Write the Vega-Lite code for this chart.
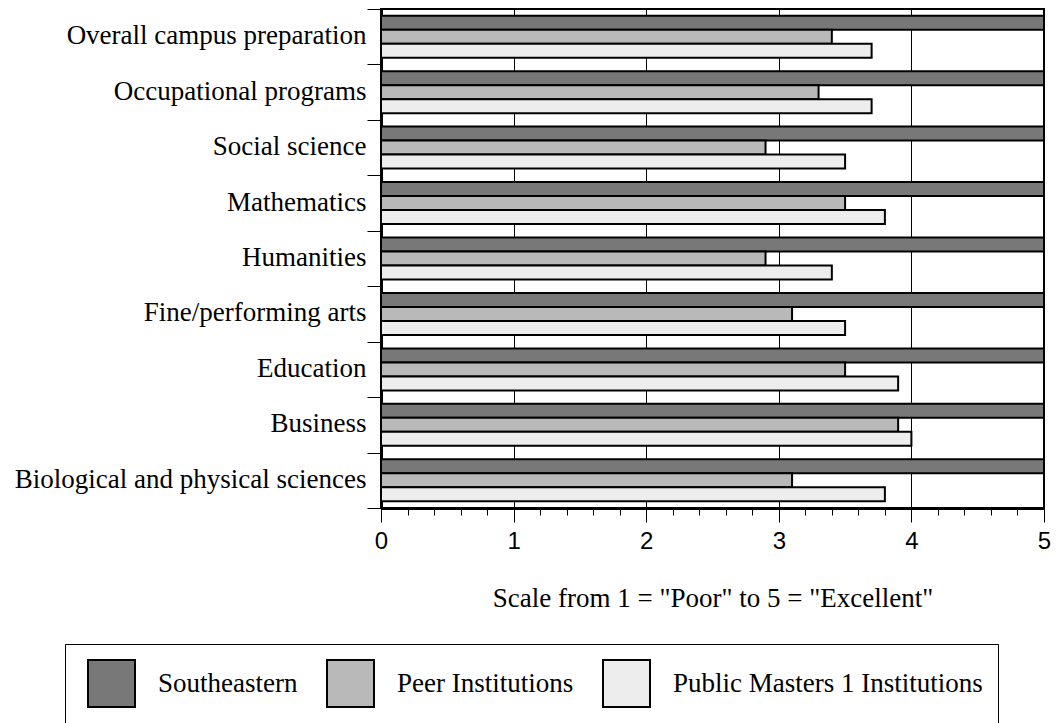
{
  "$schema": "https://vega.github.io/schema/vega-lite/v6.json",
  "width": 663,
  "height": 499,
  "autosize": {"type": "none"},
  "padding": {"left": 381, "top": 9, "right": 13, "bottom": 215},
  "background": "white",
  "data": {
    "values": [
      {"category": "Overall campus preparation", "series": "Southeastern", "value": 5},
      {"category": "Overall campus preparation", "series": "Peer Institutions", "value": 3.4},
      {"category": "Overall campus preparation", "series": "Public Masters 1 Institutions", "value": 3.7},
      {"category": "Occupational programs", "series": "Southeastern", "value": 5},
      {"category": "Occupational programs", "series": "Peer Institutions", "value": 3.3},
      {"category": "Occupational programs", "series": "Public Masters 1 Institutions", "value": 3.7},
      {"category": "Social science", "series": "Southeastern", "value": 5},
      {"category": "Social science", "series": "Peer Institutions", "value": 2.9},
      {"category": "Social science", "series": "Public Masters 1 Institutions", "value": 3.5},
      {"category": "Mathematics", "series": "Southeastern", "value": 5},
      {"category": "Mathematics", "series": "Peer Institutions", "value": 3.5},
      {"category": "Mathematics", "series": "Public Masters 1 Institutions", "value": 3.8},
      {"category": "Humanities", "series": "Southeastern", "value": 5},
      {"category": "Humanities", "series": "Peer Institutions", "value": 2.9},
      {"category": "Humanities", "series": "Public Masters 1 Institutions", "value": 3.4},
      {"category": "Fine/performing arts", "series": "Southeastern", "value": 5},
      {"category": "Fine/performing arts", "series": "Peer Institutions", "value": 3.1},
      {"category": "Fine/performing arts", "series": "Public Masters 1 Institutions", "value": 3.5},
      {"category": "Education", "series": "Southeastern", "value": 5},
      {"category": "Education", "series": "Peer Institutions", "value": 3.5},
      {"category": "Education", "series": "Public Masters 1 Institutions", "value": 3.9},
      {"category": "Business", "series": "Southeastern", "value": 5},
      {"category": "Business", "series": "Peer Institutions", "value": 3.9},
      {"category": "Business", "series": "Public Masters 1 Institutions", "value": 4.0},
      {"category": "Biological and physical sciences", "series": "Southeastern", "value": 5},
      {"category": "Biological and physical sciences", "series": "Peer Institutions", "value": 3.1},
      {"category": "Biological and physical sciences", "series": "Public Masters 1 Institutions", "value": 3.8}
    ]
  },
  "mark": {"type": "bar", "stroke": "black", "strokeWidth": 2, "clip": true},
  "encoding": {
    "y": {
      "field": "category",
      "type": "nominal",
      "sort": null,
      "scale": {"paddingInner": 0, "paddingOuter": 0},
      "axis": {
        "title": null,
        "tickBand": "extent",
        "tickSize": 14,
        "tickColor": "black",
        "tickWidth": 1,
        "domainColor": "black",
        "domainWidth": 3,
        "labelFont": "Liberation Serif",
        "labelFontSize": 27,
        "labelColor": "black",
        "labelPadding": 1,
        "labelOffset": -1,
        "labelLimit": 600
      }
    },
    "yOffset": {
      "field": "series",
      "type": "nominal",
      "sort": ["Southeastern", "Peer Institutions", "Public Masters 1 Institutions"],
      "scale": {"paddingInner": 0, "paddingOuter": 0.48}
    },
    "x": {
      "field": "value",
      "type": "quantitative",
      "scale": {"domain": [0, 5], "nice": false},
      "axis": {
        "title": "Scale from 1 = \"Poor\" to 5 = \"Excellent\"",
        "titleFont": "Liberation Serif",
        "titleFontSize": 27,
        "titleFontWeight": "normal",
        "titleColor": "black",
        "titlePadding": 32,
        "values": [0, 0.2, 0.4, 0.6, 0.8, 1, 1.2, 1.4, 1.6, 1.8, 2, 2.2, 2.4, 2.6, 2.8, 3, 3.2, 3.4, 3.6, 3.8, 4, 4.2, 4.4, 4.6, 4.8, 5],
        "labelExpr": "abs(datum.value - round(datum.value)) < 0.001 ? format(datum.value, 'd') : ''",
        "labelFont": "Liberation Sans",
        "labelFontSize": 24,
        "labelColor": "black",
        "labelPadding": 7,
        "labelFlush": false,
        "labelOverlap": false,
        "tickColor": "black",
        "tickWidth": 1,
        "tickSize": {"condition": {"test": "abs(datum.value - round(datum.value)) < 0.001", "value": 14}, "value": 7},
        "domainColor": "black",
        "domainWidth": 3,
        "grid": true,
        "gridColor": "black",
        "gridWidth": 1,
        "gridOpacity": {"condition": {"test": "abs(datum.value - round(datum.value)) < 0.001", "value": 1}, "value": 0}
      }
    },
    "fill": {
      "field": "series",
      "type": "nominal",
      "sort": ["Southeastern", "Peer Institutions", "Public Masters 1 Institutions"],
      "scale": {
        "domain": ["Southeastern", "Peer Institutions", "Public Masters 1 Institutions"],
        "range": ["#787878", "#b9b9b9", "#ededed"]
      },
      "legend": {
        "title": null,
        "orient": "none",
        "direction": "horizontal",
        "columns": 3,
        "legendX": -316,
        "legendY": 635,
        "padding": 15,
        "symbolOffset": 7,
        "strokeColor": "black",
        "fillColor": "white",
        "symbolType": "square",
        "symbolSize": 2209,
        "symbolStrokeColor": "black",
        "symbolStrokeWidth": 2,
        "symbolOpacity": 1,
        "labelFont": "Liberation Serif",
        "labelFontSize": 27,
        "labelColor": "black",
        "labelOffset": 22,
        "labelLimit": 500,
        "columnPadding": 21
      }
    }
  },
  "config": {
    "view": {"stroke": "black", "strokeWidth": 2}
  }
}
